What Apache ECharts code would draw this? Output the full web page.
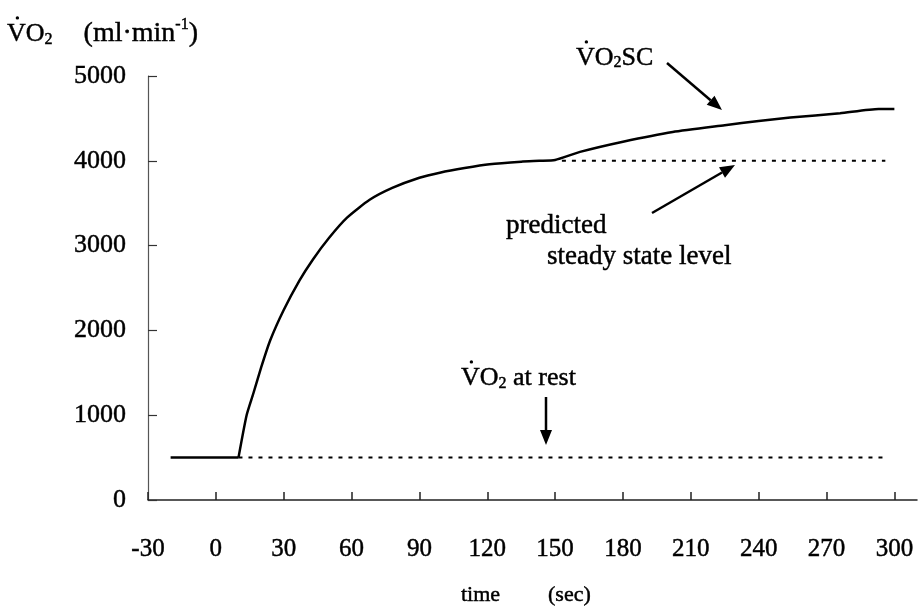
<!DOCTYPE html>
<html>
<head>
<meta charset="utf-8">
<script src="https://cdn.jsdelivr.net/npm/echarts@6/dist/echarts.min.js"></script>
<style>
  html, body { margin: 0; padding: 0; background: #fff; }
  #chart { width: 921px; height: 610px; }
</style>
</head>
<body>
<div id="chart"></div>
<script>
// Oxygen uptake during a heavy constant-load bout: time (s) vs VO2 (ml/min)
const uptakeTime  = [-20, 10, 13.6, 16.5, 20, 24, 30, 37, 43, 50, 58, 68, 78, 90, 99, 110, 121, 135, 143, 150, 161, 180, 202, 225, 240, 254, 276, 293, 300];
const uptakeValue = [500, 500, 1000, 1250, 1560, 1880, 2240, 2590, 2840, 3090, 3330, 3540, 3680, 3800, 3860, 3915, 3960, 3990, 4000, 4010, 4105, 4225, 4340, 4420, 4470, 4510, 4560, 4610, 4610];

// Reference levels
const restLevel = 500;
const restSpan = [10, 297];
const steadyLevel = 4000;
const steadySpan = [153, 296];

// Axis ticks
const timeTicks = [-30, 0, 30, 60, 90, 120, 150, 180, 210, 240, 270, 300];
const vo2Ticks = [0, 1000, 2000, 3000, 4000, 5000];

const FONT = '"Liberation Serif", "Times New Roman", serif';
const INK = '#000';

const chart = echarts.init(document.getElementById('chart'), null, { renderer: 'canvas' });

const points = uptakeTime.map((t, i) => [t, uptakeValue[i]]);
// flat pre-exercise baseline, then the response from exercise onset
const baseline = points.slice(0, 2);
const response = points.slice(1);
const restLine = restSpan.map(t => [t, restLevel]);
const steadyLine = steadySpan.map(t => [t, steadyLevel]);

// text helpers: lay out runs of differently sized pieces (subscripts, superscripts, dotted V)
const measureCtx = document.createElement('canvas').getContext('2d');
function textWidth(s, size) {
  measureCtx.font = size + 'px ' + FONT;
  return measureCtx.measureText(s).width;
}
function textRun(x, yMid, pieces) {
  const out = [];
  pieces.forEach(p => {
    if (p.gap) { x += p.gap; return; }
    out.push({
      type: 'text', x: x, y: yMid + (p.dy || 0), z: 10,
      style: {
        text: p.t, font: p.s + 'px ' + FONT, fill: INK,
        stroke: INK, lineWidth: 0.45,
        align: 'left', verticalAlign: 'middle',
        textAlign: 'left', textVerticalAlign: 'middle'
      }
    });
    if (p.dot) {
      const w = textWidth(p.t.charAt(0), p.s);
      out.push({ type: 'circle', z: 10, shape: { cx: x + w / 2 + 1, cy: yMid - p.s * 0.62, r: 1.7 }, style: { fill: INK } });
    }
    x += textWidth(p.t, p.s);
  });
  return out;
}
function arrow(x1, y1, x2, y2) {
  const ang = Math.atan2(y2 - y1, x2 - x1);
  const len = 15, half = 6;
  const bx = x2 - len * Math.cos(ang), by = y2 - len * Math.sin(ang);
  const nx = -Math.sin(ang) * half, ny = Math.cos(ang) * half;
  return [
    { type: 'line', z: 10, shape: { x1: x1, y1: y1, x2: bx, y2: by }, style: { stroke: INK, lineWidth: 2.5 } },
    { type: 'polygon', z: 10, shape: { points: [[x2, y2], [bx + nx, by + ny], [bx - nx, by - ny]] }, style: { fill: INK } }
  ];
}

const graphics = [].concat(
  // y-axis title
  textRun(7, 34, [
    { t: 'VO', s: 26, dot: true }, { t: '2', s: 16, dy: 6 }, { gap: 31 },
    { t: '(ml·min', s: 28 }, { t: '-1', s: 16, dy: -9 }, { t: ')', s: 28 }
  ]),
  // x-axis title
  textRun(461, 595, [{ t: 'time', s: 22 }]),
  textRun(548, 595, [{ t: '(sec)', s: 22 }]),
  // slow component label
  textRun(576, 58, [{ t: 'VO', s: 26, dot: true }, { t: '2', s: 16, dy: 5 }, { t: 'SC', s: 26 }]),
  arrow(667, 63, 722, 110),
  // predicted steady state label
  textRun(506, 226, [{ t: 'predicted', s: 27 }]),
  textRun(547, 257, [{ t: 'steady state level', s: 27 }]),
  arrow(652, 213, 735, 165),
  // resting level label
  textRun(461, 378, [{ t: 'VO', s: 26, dot: true }, { t: '2', s: 16, dy: 6 }, { t: ' at rest', s: 26 }]),
  arrow(546, 397, 546, 445)
);

const labelStyle = { color: INK, fontFamily: FONT, textBorderColor: INK, textBorderWidth: 0.45 };

chart.setOption({
  animation: false,
  backgroundColor: '#fff',
  grid: { left: 148, right: 4, top: 76, bottom: 110, containLabel: false },
  xAxis: {
    type: 'value', min: -30, max: 310,
    axisLine: { show: true, onZero: false, lineStyle: { color: '#222', width: 1.5 } },
    axisTick: { show: true, inside: true, length: 8, customValues: timeTicks, lineStyle: { color: '#222', width: 1.5 } },
    axisLabel: Object.assign({ customValues: timeTicks, margin: 37, fontSize: 25 }, labelStyle),
    splitLine: { show: false }
  },
  yAxis: {
    type: 'value', min: 0, max: 5000, interval: 1000,
    axisLine: { show: true, onZero: false, lineStyle: { color: '#555', width: 1.2 } },
    axisTick: { show: true, inside: true, length: 9, lineStyle: { color: '#333', width: 1.2 } },
    axisLabel: Object.assign({ margin: 22, fontSize: 26,
      formatter: v => (vo2Ticks.indexOf(v) >= 0 ? String(v) : '') }, labelStyle),
    splitLine: { show: false }
  },
  series: [
    {
      name: 'VO2 baseline', type: 'line', data: baseline, symbol: 'none',
      lineStyle: { color: INK, width: 2.5 }, z: 5
    },
    {
      name: 'VO2', type: 'line', data: response, symbol: 'none', smooth: 0.2,
      lineStyle: { color: INK, width: 2.5 }, z: 5
    },
    {
      name: 'rest', type: 'line', data: restLine, symbol: 'none',
      lineStyle: { color: INK, width: 2, type: [4, 6] }, z: 4
    },
    {
      name: 'steady', type: 'line', data: steadyLine, symbol: 'none',
      lineStyle: { color: INK, width: 2, type: [4, 6] }, z: 4
    }
  ],
  graphic: graphics
});
</script>
</body>
</html>
